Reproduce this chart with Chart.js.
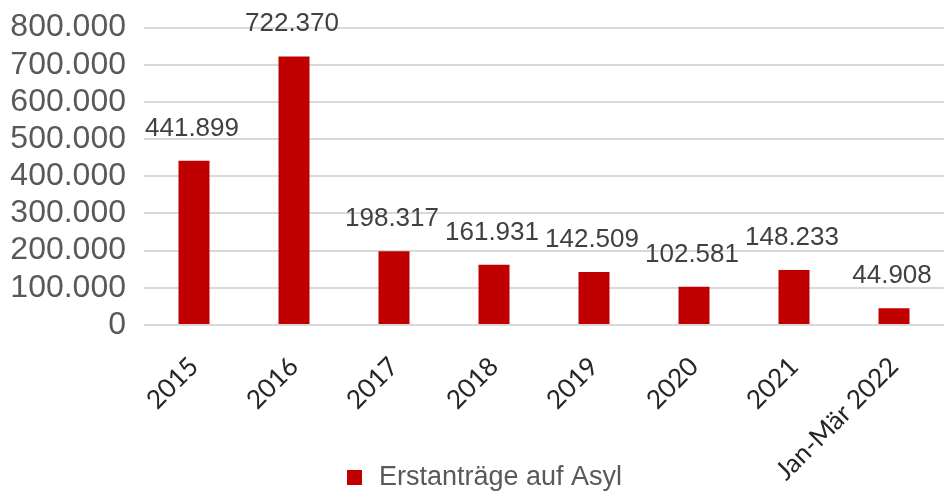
<!DOCTYPE html>
<html>
<head>
<meta charset="utf-8">
<script src="https://cdn.jsdelivr.net/npm/chart.js@4.4.1/dist/chart.umd.min.js"></script>
<style>
  html, body { margin: 0; padding: 0; background: #fff; }
  #wrap { width: 944px; height: 493px; position: relative; }
</style>
</head>
<body>
<div id="wrap"><canvas id="asylChart"></canvas></div>
<script>
// Daten
var categories = ["2015", "2016", "2017", "2018", "2019", "2020", "2021", "Jan-Mär 2022"];
var erstantraege = [441899, 722370, 198317, 161931, 142509, 102581, 148233, 44908];
var seriesLabel = "Erstanträge auf Asyl";
var barColor = "#c00000";

function formatDE(v)
{
    return v.toString().replace(/\B(?=(\d{3})+(?!\d))/g, ".");
}

//Value labels above the bars + legend under the axis labels
//(the x axis reaches the bottom edge, so the legend is drawn here)
var extras = {
    id: "extras",
    afterDatasetsDraw: function(chart)
    {
        var ctx = chart.ctx;
        ctx.save();
        ctx.font = "26px 'Liberation Sans', Arial, sans-serif";
        ctx.fillStyle = "#404040";
        ctx.textAlign = "center";
        ctx.textBaseline = "alphabetic";
        chart.getDatasetMeta(0).data.forEach(function(bar, i) {
            ctx.fillText(formatDE(erstantraege[i]), bar.x - 2, bar.y - 25);
        });
        ctx.restore();
    },
    afterDraw: function(chart)
    {
        var ctx = chart.ctx;
        ctx.save();
        ctx.font = "27px 'Liberation Sans', Arial, sans-serif";
        var textW = ctx.measureText(seriesLabel).width;
        var total = 15 + 17 + textW;
        var x0 = Math.round(485 - total / 2);
        var yc = 478;
        ctx.fillStyle = barColor;
        ctx.fillRect(x0, yc - 8, 15, 15);
        ctx.fillStyle = "#595959";
        ctx.textBaseline = "middle";
        ctx.textAlign = "left";
        ctx.fillText(seriesLabel, x0 + 32, yc);
        ctx.restore();
    }
};

new Chart(document.getElementById("asylChart"), {
    type: "bar",
    data: {
        labels: categories,
        datasets: [{
            label: seriesLabel,
            data: erstantraege,
            backgroundColor: barColor,
            borderWidth: 0,
            barPercentage: 0.31,
            categoryPercentage: 1.0
        }]
    },
    options: {
        responsive: true,
        maintainAspectRatio: false,
        animation: false,
        layout: { padding: { top: 0, right: 0, left: 0, bottom: 0 } },
        plugins: {
            legend: { display: false },
            tooltip: { enabled: false }
        },
        scales: {
            x: {
                grid: { display: false, drawTicks: false },
                border: { display: false },
                ticks: {
                    minRotation: 45,
                    maxRotation: 45,
                    autoSkip: false,
                    padding: 26,
                    color: "#262626",
                    font: { family: "Lato, 'Open Sans', sans-serif", size: 26 }
                },
                afterFit: function(scale) { scale.height = 168; }
            },
            y: {
                min: 0,
                max: 800000,
                grid: { color: "#d9d9d9", lineWidth: 2, drawTicks: false },
                border: { display: false },
                ticks: {
                    stepSize: 100000,
                    autoSkip: false,
                    padding: 18,
                    color: "#595959",
                    font: { family: "'Liberation Sans', Arial, sans-serif", size: 32, lineHeight: 0.6 },
                    callback: function(v) { return formatDE(v); }
                },
                afterFit: function(scale) { scale.width = 144; }
            }
        }
    },
    plugins: [extras]
});
</script>
</body>
</html>
